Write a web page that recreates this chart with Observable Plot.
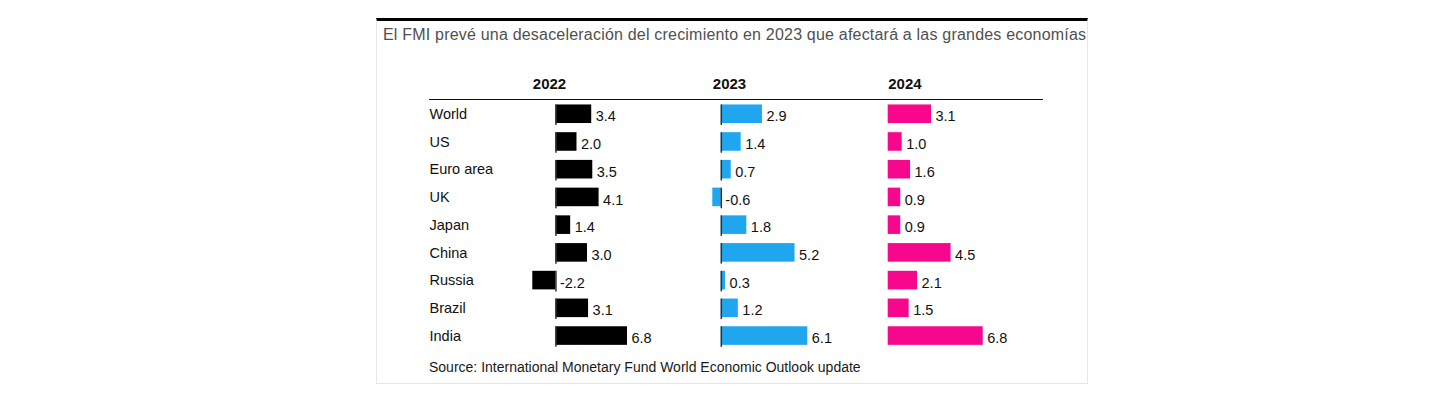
<!DOCTYPE html>
<html>
<head>
<meta charset="utf-8">
<script src="https://cdn.jsdelivr.net/npm/d3@7"></script>
<script src="https://cdn.jsdelivr.net/npm/@observablehq/plot@0.6"></script>
<style>
  html, body { margin: 0; padding: 0; background: #fff; }
  body { width: 1442px; height: 399px; position: relative; overflow: hidden;
         font-family: "Liberation Sans", Arial, Helvetica, sans-serif; }
  #frame { position: absolute; left: 376px; top: 18px; width: 712px; height: 366px;
           box-sizing: border-box; border: 1px solid #e6e6e6; border-top: 3px solid #000; }
  #title { position: absolute; left: 383px; top: 26px; font-size: 16px; line-height: 18px;
           letter-spacing: 0.2px; color: #505050; white-space: nowrap; }
  #rule { position: absolute; left: 429px; top: 98.6px; width: 614px; height: 1.5px; background: #111; }
  #source { position: absolute; left: 429px; top: 358.9px; font-size: 14px; line-height: 16px;
            color: #1a1a1a; white-space: nowrap; }
  .panel { position: absolute; top: 60px; }
  .panel svg { overflow: visible; }
</style>
</head>
<body>
<div id="frame"></div>
<div id="title">El FMI prevé una desaceleración del crecimiento en 2023 que afectará a las grandes economías</div>
<div id="rule"></div>
<div id="p2022" class="panel" style="left:376px"></div>
<div id="p2023" class="panel" style="left:700px"></div>
<div id="p2024" class="panel" style="left:870px"></div>
<div id="source">Source: International Monetary Fund World Economic Outlook update</div>
<script>
const countries = ["World", "US", "Euro area", "UK", "Japan", "China", "Russia", "Brazil", "India"];
const years = ["2022", "2023", "2024"];
const values2022 = [3.4, 2.0, 3.5, 4.1, 1.4, 3.0, -2.2, 3.1, 6.8];
const values2023 = [2.9, 1.4, 0.7, -0.6, 1.8, 5.2, 0.3, 1.2, 6.1];
const values2024 = [3.1, 1.0, 1.6, 0.9, 0.9, 4.5, 2.1, 1.5, 6.8];
const colors = ["#000000", "#1fa6ee", "#f7078c"];

const FONT = '"Liberation Sans", Arial, Helvetica, sans-serif';

function panel(year, values, color, layout) {
  const data = countries.map((c, i) => ({country: c, value: values[i]}));
  const lo = Math.min(0, d3.min(values));
  const hi = d3.max(values);
  const marks = [
    Plot.barX(data, {x: "value", y: "country", fill: color}),
    Plot.text(data, {
      x: d => Math.max(0, d.value), y: "country", text: d => d.value.toFixed(1),
      textAnchor: "start", dx: 4, dy: 2.5, fill: "#111", fontSize: 14.5
    }),
    Plot.text([year], {
      frameAnchor: "top-left", text: d => d, lineAnchor: "bottom", dy: -7.3,
      fontWeight: "bold", fontSize: 15, fill: "#111", letterSpacing: "1px"
    })
  ];
  if (lo < 0) {
    marks.push(Plot.tickX(data, {x: () => 0, y: "country", stroke: "#333", strokeWidth: 1.5, insetBottom: -2}));
  }
  if (layout.labels) {
    marks.push(Plot.axisY({
      tickSize: 0, tickPadding: layout.marginLeft - 53, textAnchor: "start",
      fontSize: 14.5, fill: "#111", label: null
    }));
  }
  return Plot.plot({
    width: layout.width,
    height: 294,
    marginTop: 35.3,
    marginBottom: 0,
    marginLeft: layout.marginLeft,
    marginRight: layout.width - layout.xEnd,
    x: {domain: [lo, hi], axis: null},
    y: {domain: countries, padding: 0.33, round: false, axis: null},
    style: {fontFamily: FONT, background: "transparent", color: "#111", overflow: "visible"},
    marks
  });
}

document.getElementById("p2022").append(
  panel(years[0], values2022, colors[0], {width: 291, marginLeft: 156.3, xEnd: 251, labels: true}));
document.getElementById("p2023").append(
  panel(years[1], values2023, colors[1], {width: 150, marginLeft: 12.3, xEnd: 107.3, labels: false}));
document.getElementById("p2024").append(
  panel(years[2], values2024, colors[2], {width: 170, marginLeft: 17.7, xEnd: 112.7, labels: false}));
</script>
</body>
</html>
